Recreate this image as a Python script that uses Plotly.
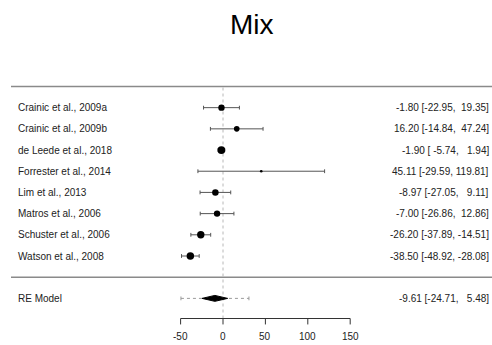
import plotly.graph_objects as go

# ---- data ----
studies = ["Crainic et al., 2009a", "Crainic et al., 2009b", "de Leede et al., 2018",
           "Forrester et al., 2014", "Lim et al., 2013", "Matros et al., 2006",
           "Schuster et al., 2006", "Watson et al., 2008"]
est = [-1.80, 16.20, -1.90, 45.11, -8.97, -7.00, -26.20, -38.50]
ci_lb = [-22.95, -14.84, -5.74, -29.59, -27.05, -26.86, -37.89, -48.92]
ci_ub = [19.35, 47.24, 1.94, 119.81, 9.11, 12.86, -14.51, -28.08]
weights = [12.0, 9.5, 18.0, 2.0, 12.5, 12.0, 16.0, 16.5]

re_label = "RE Model"
re_est = -9.61
re_lb = -24.71
re_ub = 5.48
pi_lb = -49.6
pi_ub = 30.6

tick_vals = [-50, 0, 50, 100, 150]
title = "Mix"

# ---- layout helpers ----
k = len(studies)
rows = list(range(k, 0, -1))
re_row = -1
axis_y = -1.95
FONT = "Liberation Sans, Arial, sans-serif"
TXT = "#222222"
FS = 10
W, H = 492, 345
px_per_unit = 0.848
x0_px = 223
xmin = -x0_px / px_per_unit
xmax = (W - x0_px) / px_per_unit


def nb(s):
    return s.replace(" ", "\u00a0")


def fmt(e, l, u):
    return nb(f"{e:.2f} [{l:6.2f}, {u:6.2f}]")


fig = go.Figure()


def line(x0, x1, y0, y1, color, width=1, dash="solid", xref="x"):
    fig.add_shape(type="line", x0=x0, x1=x1, y0=y0, y1=y1, xref=xref, yref="y",
                  layer="below", line=dict(color=color, width=width, dash=dash))


# top & separator lines
for yy in [k + 1, 0]:
    line(11 / W, 1, yy, yy, "#8a8a8a", 1.5, xref="paper")

# reference line at 0
line(0, 0, axis_y, k + 1, "#b8b8b8", 1, "dot")

# CI lines with caps
cap = 0.09
for r, l, u in zip(rows, ci_lb, ci_ub):
    line(l, u, r, r, "#555555")
    for xv in (l, u):
        line(xv, xv, r - cap, r + cap, "#555555")

# points
wmax = max(weights)
sizes = [7.8 * (w / wmax) ** 0.5 for w in weights]
fig.add_trace(go.Scatter(x=est, y=rows, mode="markers",
                         marker=dict(color="black", size=sizes, symbol="circle", opacity=1,
                                     line=dict(width=0)),
                         hoverinfo="skip", showlegend=False))

# prediction interval
line(pi_lb, pi_ub, re_row, re_row, "#9a9a9a", 1, "dot")
for xv in (pi_lb, pi_ub):
    line(xv, xv, re_row - cap, re_row + cap, "#9a9a9a")

# diamond
h = 0.14
fig.add_trace(go.Scatter(x=[re_lb, re_est, re_ub, re_est, re_lb],
                         y=[re_row, re_row + h, re_row, re_row - h, re_row],
                         mode="lines", fill="toself", fillcolor="black",
                         line=dict(color="black", width=1), hoverinfo="skip", showlegend=False))

# x axis (custom)
line(tick_vals[0], tick_vals[-1], axis_y, axis_y, "#333333")
for t in tick_vals:
    line(t, t, axis_y, axis_y - 0.28, "#333333")
    fig.add_annotation(x=t, y=axis_y - 0.85, text=str(t), showarrow=False,
                       font=dict(family=FONT, size=FS, color=TXT), xanchor="center", yanchor="middle")

# labels
for r, name, e, l, u in zip(rows, studies, est, ci_lb, ci_ub):
    fig.add_annotation(x=16 / W, xref="paper", y=r, text=name, showarrow=False,
                       xanchor="left", yanchor="middle", font=dict(family=FONT, size=FS, color=TXT))
    fig.add_annotation(x=491 / W, xref="paper", y=r, text=fmt(e, l, u), showarrow=False,
                       xanchor="right", yanchor="middle", font=dict(family=FONT, size=FS, color=TXT))
fig.add_annotation(x=16 / W, xref="paper", y=re_row, text=re_label, showarrow=False,
                   xanchor="left", yanchor="middle", font=dict(family=FONT, size=FS, color=TXT))
fig.add_annotation(x=491 / W, xref="paper", y=re_row, text=fmt(re_est, re_lb, re_ub), showarrow=False,
                   xanchor="right", yanchor="middle", font=dict(family=FONT, size=FS, color=TXT))

# title
fig.add_annotation(x=252 / W, xref="paper", y=1 - 24 / H, yref="paper", text=title, showarrow=False,
                   xanchor="center", yanchor="middle", font=dict(family=FONT, size=28, color="black"))

fig.update_layout(
    width=W, height=H, autosize=False,
    margin=dict(l=0, r=0, t=0, b=0),
    paper_bgcolor="white", plot_bgcolor="white",
    xaxis=dict(range=[xmin, xmax], visible=False, fixedrange=True),
    yaxis=dict(range=[-3.2, 13.08], visible=False, fixedrange=True),
    showlegend=False,
)

fig.write_html("out.html")
